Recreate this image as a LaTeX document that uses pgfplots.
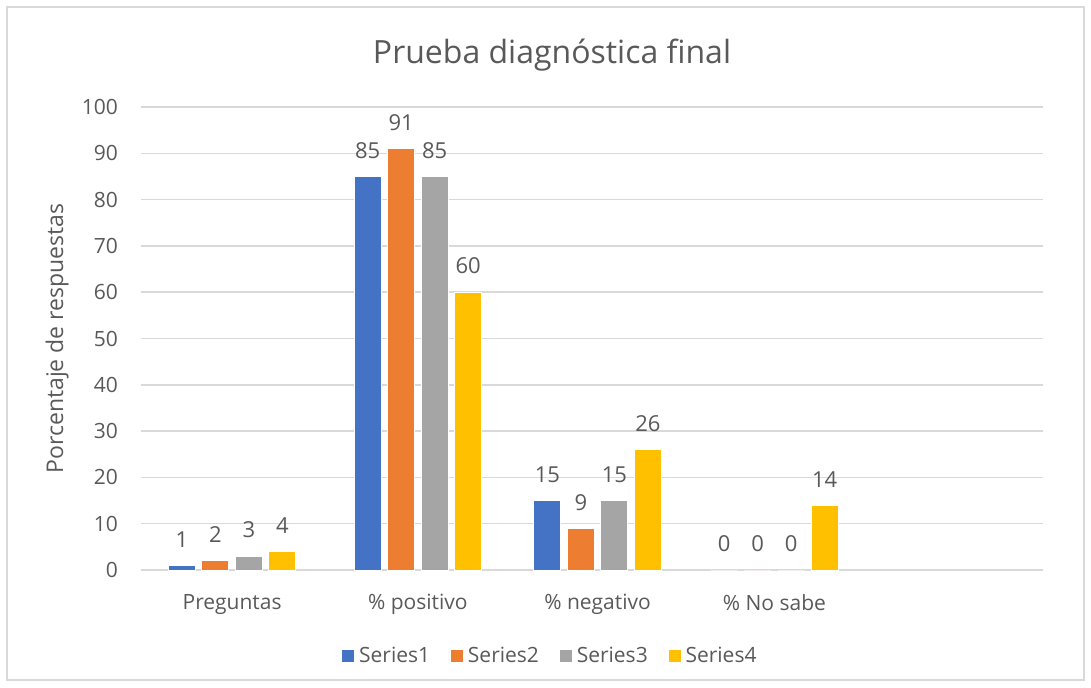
\documentclass[border=0pt]{standalone}
\usepackage{pgfplots}
\pgfplotsset{compat=1.18}
\usepackage{fontspec}
\setmainfont{Open Sans}
\definecolor{s1}{HTML}{4472C4}
\definecolor{s2}{HTML}{ED7D31}
\definecolor{s3}{HTML}{A5A5A5}
\definecolor{s4}{HTML}{FFC000}
\definecolor{gridc}{HTML}{D9D9D9}
\definecolor{txt}{HTML}{595959}
\begin{document}
\begin{tikzpicture}
\path[use as bounding box] (0pt,0pt) rectangle (545.5pt,343.5pt);
\draw[gridc, line width=0.75pt] (3.5pt,3.5pt) rectangle (542pt,340pt);
\begin{axis}[
  at={(70.5pt,58.5pt)}, anchor=south west,
  scale only axis, width=451pt, height=231.5pt,
  xmin=-0.5, xmax=4.5, ymin=0, ymax=100,
  enlargelimits=false, clip=false,
  /pgf/number format/assume math mode=true,
  ytick={0,10,...,100},
  xtick={0.005,1.035,2.031,3.011},
  xticklabels={Preguntas,{\% positivo},{\% negativo},{\% No sabe}},
  ymajorgrids, grid style={gridc, line width=0.75pt},
  axis line style={draw=none}, major tick length=0pt,
  ybar=3.25pt, bar width=13.5pt,
  ticklabel style={text=txt, font=\fontsize{10.5}{12}\selectfont},
  yticklabel style={xshift=-8pt},
  xticklabel style={yshift=-8.5pt},
  every axis title shift=0pt,
  title={Prueba diagnóstica final},
  title style={at={(axis description cs:0.4557,1.095)}, anchor=base, text=txt, font=\fontsize{16}{19}\selectfont},
  ylabel={Porcentaje de respuestas},
  ylabel style={at={(axis description cs:-0.093,0.5)}, anchor=center, text=txt, font=\fontsize{11.5}{13}\selectfont},
  nodes near coords,
  every node near coord/.append style={text=txt, font=\fontsize{11}{13}\selectfont, anchor=south, yshift=5.5pt},
  legend columns=4,
  legend style={at={(axis description cs:0.4545,-0.186)}, anchor=center, draw=none, fill=none,
    font=\fontsize{10.5}{12}\selectfont, text=txt,
    /tikz/every even column/.append style={column sep=8pt}},
  legend image code/.code={\fill[#1] (0pt,-3.25pt) rectangle (6.5pt,3.25pt);},
]
\addplot[fill=s1, draw=white, line width=0.4pt] coordinates {(0.005,1) (1.035,85) (2.031,15) (3.011,0)};
\addplot[fill=s2, draw=white, line width=0.4pt] coordinates {(0.005,2) (1.035,91) (2.031,9) (3.011,0)};
\addplot[fill=s3, draw=white, line width=0.4pt] coordinates {(0.005,3) (1.035,85) (2.031,15) (3.011,0)};
\addplot[fill=s4, draw=white, line width=0.4pt] coordinates {(0.005,4) (1.035,60) (2.031,26) (3.011,14)};
\legend{Series1,Series2,Series3,Series4}
\end{axis}
\end{tikzpicture}
\end{document}
